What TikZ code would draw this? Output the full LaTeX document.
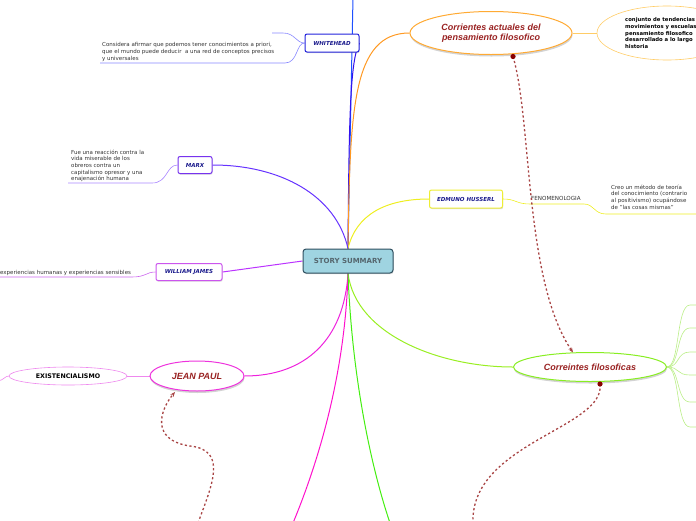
\documentclass[tikz,border=0pt]{standalone}
\usepackage{fontspec}
\setmainfont{DejaVu Sans}
\newfontfamily\arialf{Liberation Sans}
\usetikzlibrary{shapes.geometric,shadows,arrows.meta,backgrounds}
\definecolor{navy}{HTML}{1A1A8C}
\definecolor{dred}{HTML}{992222}
\definecolor{dotc}{HTML}{A84444}
\definecolor{gtext}{HTML}{333333}
\definecolor{cblue}{HTML}{1E50FF}
\definecolor{cwh}{HTML}{3311EE}
\definecolor{corange}{HTML}{FF9922}
\definecolor{cyellow}{HTML}{EEEE22}
\definecolor{cmarx}{HTML}{6633FF}
\definecolor{cwj}{HTML}{BB33FF}
\definecolor{cjp}{HTML}{EE22DD}
\definecolor{ccf}{HTML}{99EE22}
\definecolor{cmag}{HTML}{FF11CC}
\definecolor{cgreen}{HTML}{44EE11}
\definecolor{bwh}{HTML}{2222DD}
\definecolor{bmx}{HTML}{7733EE}
\definecolor{bwj}{HTML}{CC55EE}
\definecolor{bhu}{HTML}{EEEE33}
\definecolor{eact}{HTML}{FFAA33}
\definecolor{econj}{HTML}{FFCC66}
\definecolor{ecf}{HTML}{88EE22}
\definecolor{ejp}{HTML}{EE33DD}
\definecolor{eex}{HTML}{EE88EE}
\definecolor{lwh}{HTML}{8888FF}
\definecolor{lmx}{HTML}{AA88FF}
\definecolor{lwj}{HTML}{CC66EE}
\definecolor{lcf}{HTML}{BBEE88}
\definecolor{cline}{HTML}{2F4F5F}
\definecolor{cfill}{HTML}{9FD4E1}
\definecolor{ctext}{HTML}{55666E}
\definecolor{dotdot}{HTML}{880000}
\tikzset{
  boxnode/.style={draw, fill=white, rounded corners=2pt, line width=1pt, text=navy,
    font=\fontsize{5.5}{6}\selectfont\bfseries\itshape, inner sep=0pt,
    drop shadow={shadow xshift=0.6pt, shadow yshift=-1.2pt, opacity=0.3}},
  ellnode/.style={ellipse, draw, fill=white, line width=1pt, inner sep=0pt,
    drop shadow={shadow xshift=0.5pt, shadow yshift=-2pt, opacity=0.35}},
  elltext/.style={text=dred, font=\arialf\fontsize{9}{10}\selectfont\bfseries\itshape, align=center},
  small/.style={text=gtext, font=\fontsize{5.5}{6.7}\selectfont, align=left, inner sep=0pt},
  conn/.style={line width=1pt},
  thin/.style={line width=0.6pt},
  dotline/.style={dotc, dash pattern=on 2.2pt off 2.4pt, line width=1.3pt},
  tip/.style={-{Stealth[length=5pt,width=4pt]}},
}
\begin{document}
\begin{tikzpicture}[x=1pt,y=-1pt]
\useasboundingbox (0,0) rectangle (696,520);
\clip (0,0) rectangle (696,520);

% central
\node[draw=cline, fill=cfill, rounded corners=3pt, line width=1pt, minimum width=90pt, minimum height=24pt, inner sep=0pt,
  text=ctext, font=\fontsize{7}{8}\selectfont\bfseries,
  drop shadow={shadow xshift=0.6pt, shadow yshift=-1.2pt, opacity=0.3}] (center) at (348,261) {STORY SUMMARY};

% boxes
\node[boxnode, draw=bwh, minimum width=54pt, minimum height=18pt] (wh) at (332,43) {WHITEHEAD};
\node[boxnode, draw=bmx, minimum width=34pt, minimum height=17pt] (mx) at (195,165) {MARX};
\node[boxnode, draw=bwj, minimum width=66pt, minimum height=17pt] (wj) at (189,272) {WILLIAM JAMES};
\node[boxnode, draw=bhu, minimum width=73pt, minimum height=18pt] (hu) at (466,199) {EDMUNO HUSSERL};

% ellipses
\node[ellnode, draw=eact, minimum width=162pt, minimum height=43pt] (act) at (491,33) {};
\node[elltext] at (act.center) {Corrientes actuales del\\pensamiento filosofico};
\node[ellipse, draw=econj, line width=0.6pt, minimum width=140pt, minimum height=54pt] (conj) at (667,33) {};
\node[anchor=north west, text=black, font=\fontsize{5.3}{6.7}\selectfont\bfseries, align=left, inner sep=0pt] (conjt) at (625,17.5)
  {conjunto de tendencias\\movimientos y escuelas\\pensamiento filosofico\\desarrollado a lo largo\\historia};

\node[ellnode, draw=ecf, minimum width=153pt, minimum height=29pt] (cf) at (590,367) {};
\node[elltext] at (cf.center) {Correintes filosoficas};

\node[ellnode, draw=ejp, minimum width=94pt, minimum height=30pt] (jp) at (197,376) {};
\node[elltext] at (jp.center) {JEAN PAUL};
\node[ellipse, draw=eex, line width=0.6pt, fill=white, minimum width=118pt, minimum height=18pt,
  font=\fontsize{6.3}{7}\selectfont\bfseries, inner sep=0pt] (ex) at (68,376) {EXISTENCIALISMO};

% texts
\node[small, anchor=north west] (wht) at (102,42.5) {Considera afirmar que podemos tener conocimientos a priori,\\que el mundo puede deducir\ \ a una red de conceptos precisos\\y universales};
\node[small, anchor=north west] (mxt) at (71,149.5) {Fue una reacción contra la\\vida miserable de los\\obreros contra un\\capitalismo opresor y una\\enajenación humana};
\node[small, anchor=west] (wjt) at (0,272.5) {experiencias humanas y experiencias sensibles};
\node[small, anchor=west, font=\fontsize{5.6}{6.5}\selectfont] (fen) at (531,198.5) {FENOMENOLOGIA};
\node[small, anchor=north west] (hut) at (611,184.5) {Creo un método de teoría\\del conocimiento (contrario\\al positivismo) ocupándose\\de "las cosas mismas"};

% free ends
\coordinate (topend) at (353,-3);
\coordinate (bm) at (293,523);
\coordinate (bg) at (390,523);

\begin{scope}[on background layer]
\draw[conn, cblue] (center.north) -- (topend);
\draw[conn, cwh] (center.north) .. controls (349,120) and (350,60) .. (wh.east);
\draw[conn, corange] (center.north) .. controls (350,110) and (352,33) .. (act.west);
\draw[conn, cyellow] (center.north) .. controls (356,215) and (385,199) .. (hu.west);
\draw[conn, cmarx] (center.north) .. controls (336,195) and (280,165) .. (mx.east);
\draw[conn, cwj] (center.west) -- (wj.east);
\draw[conn, cjp] (center.south) .. controls (344,340) and (305,376) .. (jp.east);
\draw[conn, ccf] (center.south) .. controls (356,335) and (440,367) .. (cf.west);
\draw[conn, cmag] (center.south) .. controls (345,380) and (315,470) .. (bm);
\draw[conn, cgreen] (center.south) .. controls (352,380) and (372,470) .. (bg);

\draw[thin, lwh] (wh.west) .. controls (296,43) and (295,33) .. (283,33) -- (272,33);
\draw[thin, lwh] (wh.west) .. controls (296,43) and (298,63) .. (285,63) -- (100,63);
\draw[thin, lmx] (mx.west) .. controls (166,165) and (168,183) .. (152,183) -- (68,183);
\draw[thin, lwj] (wj.west) .. controls (146,272) and (146,277) .. (132,277) -- (0,277);
\draw[thin, cyellow] (hu.east) .. controls (516,199) and (516,204) .. (530,204) -- (584,204)
  .. controls (594,204) and (594,214) .. (606,214) -- (700,214);
\draw[thin, econj] (act.east) -- (conj.west);
\foreach \yy in {305,328,352,375,402,427}{
  \draw[thin, lcf] (cf.east) .. controls (680,367) and (676,\yy) .. (690,\yy) -- (700,\yy);
}
\draw[thin, eex] (jp.west) -- (ex.east);
\draw[thin, eex] (ex.west) .. controls (5,376) and (4,380) .. (-2,381);
\end{scope}

% dotted relations
\coordinate (d1s) at (513,56.5);
\coordinate (d1e) at (573,352.5);
\coordinate (d2s) at (600,384);
\coordinate (d2e) at (473,523);
\coordinate (d3s) at (198,523);
\coordinate (d3e) at (175,392);
\draw[dotline, tip] (d1s) .. controls (532,120) and (524,280) .. (d1e);
\draw[dotline] (d2s) .. controls (606,428) and (470,443) .. (d2e);
\draw[dotline, tip] (d3s) .. controls (212,485) and (228,450) .. (190,446) .. controls (150,440) and (160,410) .. (d3e);
\fill[dotdot] (d1s) circle (2.6pt);
\fill[dotdot] (d2s) circle (2.6pt);
\end{tikzpicture}
\end{document}
